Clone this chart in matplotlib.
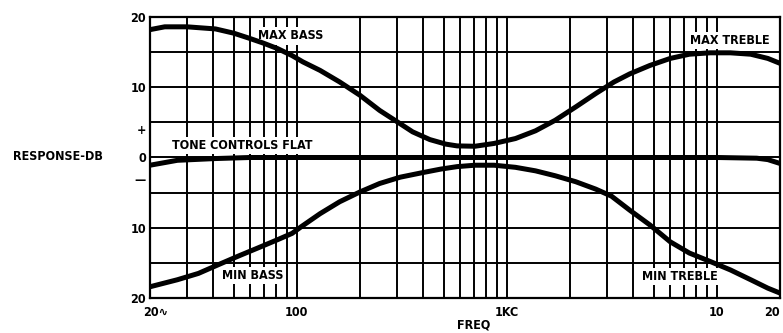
import matplotlib
matplotlib.use('Agg')
import matplotlib.pyplot as plt
import matplotlib.transforms as mtransforms

# tone control response curves, frequency in Hz, response in dB
max_bass_f = [20, 23.5, 30, 41, 50, 59, 69, 81, 95, 107, 129, 160, 200, 248,
              300, 356, 430, 513, 580, 705, 870, 1100, 1370, 1700, 2130, 2650,
              3240, 3850, 4800, 6000, 7400, 9300, 11600, 14500, 17500, 20000]
max_bass_db = [18.2, 18.6, 18.6, 18.3, 17.7, 17.0, 16.3, 15.5, 14.5, 13.6, 12.4,
               10.75, 8.85, 6.7, 5.1, 3.65, 2.55, 1.9, 1.65, 1.6, 2.0, 2.7, 3.8,
               5.3, 7.2, 9.1, 10.75, 11.9, 13.1, 14.1, 14.7, 14.9, 14.9, 14.7,
               14.1, 13.4]

flat_f = [20, 27, 41, 60, 100, 1000, 10000, 15500, 17500, 20000]
flat_db = [-1.1, -0.4, -0.15, 0.0, 0.0, 0.0, 0.0, -0.1, -0.3, -0.85]

min_bass_f = [20, 27, 34, 42, 53, 65, 81, 95, 105, 129, 160, 200, 248, 311, 390,
              485, 580, 705, 870, 1100, 1370, 1700, 2130, 2650, 3150, 3850,
              4800, 6000, 7400, 9300, 11600, 14500, 17500, 20000]
min_bass_db = [-18.4, -17.4, -16.5, -15.3, -14.0, -12.9, -11.7, -10.8, -9.85,
               -8.0, -6.3, -4.9, -3.7, -2.8, -2.2, -1.65, -1.3, -1.1, -1.1,
               -1.4, -1.9, -2.6, -3.45, -4.5, -5.5, -7.5, -9.6, -12.0, -13.6,
               -14.8, -16.0, -17.4, -18.6, -19.3]

grid_freqs = [30, 40, 50, 60, 70, 80, 90, 100,
              200, 300, 400, 500, 600, 700, 800, 900, 1000,
              2000, 3000, 4000, 5000, 6000, 7000, 8000, 9000, 10000]
grid_db = [-15, -10, -5, 0, 5, 10, 15]

y_ticks = [20, 10, 4, 0, -3, -10, -20]
y_labels = ['20', '10', '+', '0', '\u2014', '10', '20']
x_ticks = [20, 100, 1000, 10000, 20000]
x_labels = ['20\u223f', '100', '1KC', '10', '20']

plt.rcParams['font.family'] = ['DejaVu Sans']
fnt = dict(fontweight='bold', fontstretch='condensed', fontsize=9)

fig = plt.figure(figsize=(7.83, 3.33), dpi=100)
ax = fig.add_axes([0.1916, 0.1051, 0.8046, 0.8439])
ax.set_xscale('log')
ax.set_xlim(20, 20000)
ax.set_ylim(-20, 20)

ax.vlines(grid_freqs, -20, 20, colors='black', linewidth=1.4, zorder=1)
ax.hlines(grid_db, 20, 20000, colors='black', linewidth=1.4, zorder=1)

for f, db in [(max_bass_f, max_bass_db), (flat_f, flat_db), (min_bass_f, min_bass_db)]:
    ax.plot(f, db, color='black', linewidth=3.6, solid_joinstyle='round',
            solid_capstyle='butt', zorder=4)

box = dict(facecolor='white', edgecolor='none', pad=1.5)
ax.text(65, 17.3, 'MAX BASS', ha='left', va='center', bbox=box, zorder=3, **fnt)
ax.text(7450, 16.6, 'MAX TREBLE', ha='left', va='center', bbox=box, zorder=3, **fnt)
ax.text(25.4, 1.7, 'TONE CONTROLS FLAT', ha='left', va='center', bbox=box, zorder=3, **fnt)
ax.text(44, -16.8, 'MIN BASS', ha='left', va='center', bbox=box, zorder=3, **fnt)
ax.text(4400, -16.9, 'MIN TREBLE', ha='left', va='center', bbox=box, zorder=3, **fnt)

ax.set_yticks(y_ticks)
ax.set_yticklabels(y_labels, **fnt)
ax.set_xticks(x_ticks)
ax.set_xticklabels(x_labels, **fnt)
ax.minorticks_off()
ax.tick_params(length=0)
ax.tick_params(axis='y', pad=3)
ax.tick_params(axis='x', pad=6)

# first and last frequency labels sit inside the frame ends
xl = ax.get_xticklabels()
xl[0].set_ha('left')
xl[0].set_transform(xl[0].get_transform() +
                    mtransforms.ScaledTranslation(-0.07, 0, fig.dpi_scale_trans))
xl[-1].set_ha('right')

fig.text(474 / 783, 1 - 325 / 333, 'FREQ', ha='center', va='center', **fnt)
fig.text(0.017, 1 - 157 / 333, 'RESPONSE-DB', ha='left', va='center', **fnt)

for s in ax.spines.values():
    s.set_linewidth(1.6)

fig.savefig('out.png', dpi=100)
